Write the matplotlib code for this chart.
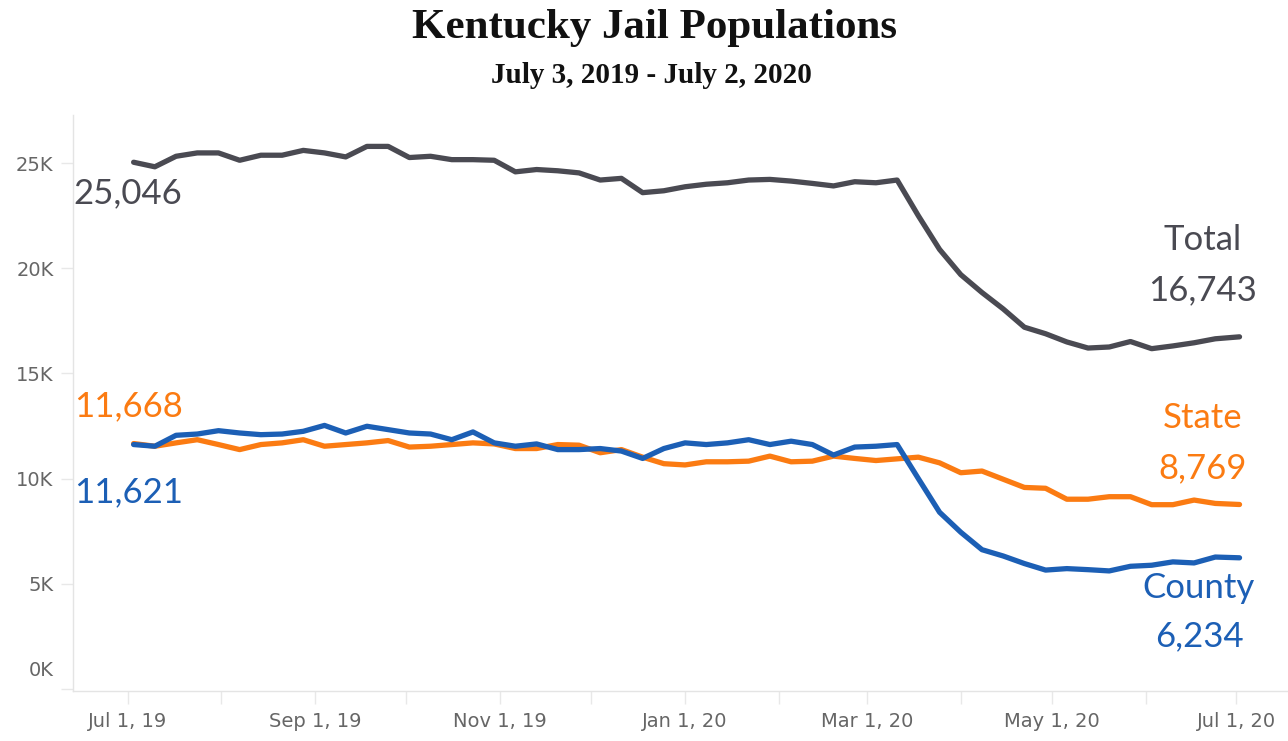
import numpy as np
import pandas as pd
import matplotlib
matplotlib.use("Agg")
import matplotlib.pyplot as plt
import matplotlib.dates as mdates
from matplotlib.ticker import FuncFormatter
from matplotlib.transforms import ScaledTranslation

# weekly counts, Jul 3 2019 - Jul 2 2020
dates = list(pd.date_range("2019-07-03", periods=52, freq="7D")) + [pd.Timestamp("2020-07-02")]

total = [25046, 24830, 25330, 25490, 25490, 25140, 25380, 25380, 25610, 25490,
         25300, 25800, 25800, 25270, 25330, 25170, 25170, 25140, 24590, 24700,
         24640, 24540, 24200, 24280, 23600, 23690, 23880, 24000, 24070, 24200,
         24230, 24150, 24040, 23920, 24120, 24070, 24200, 22500, 20900, 19700,
         18850, 18070, 17200, 16890, 16500, 16210, 16260, 16520, 16180, 16310,
         16460, 16650, 16743]
state = [11668, 11540, 11700, 11850, 11620, 11380, 11620, 11700, 11850, 11540,
         11620, 11700, 11810, 11500, 11540, 11620, 11700, 11650, 11430, 11430,
         11620, 11590, 11230, 11380, 11020, 10710, 10650, 10800, 10800, 10830,
         11070, 10800, 10830, 11070, 10960, 10860, 10940, 11020, 10750, 10280,
         10360, 9970, 9580, 9540, 9020, 9020, 9140, 9140, 8760, 8760,
         8980, 8820, 8769]
county = [11621, 11540, 12060, 12120, 12280, 12170, 12090, 12120, 12250, 12530,
          12170, 12490, 12330, 12170, 12120, 11850, 12220, 11700, 11540, 11650,
          11380, 11380, 11430, 11310, 10960, 11430, 11700, 11620, 11700, 11850,
          11620, 11780, 11620, 11120, 11500, 11540, 11620, 10000, 8400, 7450,
          6620, 6320, 5960, 5650, 5720, 5670, 5610, 5830, 5880, 6040,
          5990, 6270, 6234]

c_total = "#4a4a52"
c_state = "#fb7b12"
c_county = "#1c5fb5"

fig = plt.figure(figsize=(12.88, 7.41), dpi=100)
ax = fig.add_axes([0.0567, 0.0675, 0.9433, 0.7775])

for ys, c in [(total, c_total), (state, c_state), (county, c_county)]:
    ax.plot(dates, ys, color=c, lw=3.8, solid_capstyle="round", solid_joinstyle="round")

ax.set_xlim(pd.Timestamp("2019-06-13"), pd.Timestamp("2020-07-18"))
ax.set_ylim(-100, 27300)

ax.set_yticks([0, 5000, 10000, 15000, 20000, 25000])
ax.yaxis.set_major_formatter(FuncFormatter(lambda v, p: f"{v/1000:.0f}K"))
ax.xaxis.set_major_locator(mdates.MonthLocator(bymonth=[1, 3, 5, 7, 9, 11]))
ax.xaxis.set_minor_locator(mdates.MonthLocator())

def fmt_date(v, p):
    d = mdates.num2date(v)
    return d.strftime("%b ") + str(d.day) + d.strftime(", %y")

ax.xaxis.set_major_formatter(FuncFormatter(fmt_date))

for s in ["top", "right"]:
    ax.spines[s].set_visible(False)
for s in ["left", "bottom"]:
    ax.spines[s].set_color("#e4e4e4")
    ax.spines[s].set_linewidth(1)

ax.tick_params(axis="y", length=9, width=1, color="#e8e8e8", labelsize=14,
               labelcolor="#666666", pad=5, labelfontfamily="Liberation Sans Narrow")
ax.tick_params(axis="x", which="both", length=9, width=1, color="#e8e8e8",
               labelsize=14, labelcolor="#666666", pad=6,
               labelfontfamily="Liberation Sans Narrow")
zero = ax.get_yticklabels()[0]
zero.set_transform(zero.get_transform() + ScaledTranslation(0, 0.2, fig.dpi_scale_trans))

lab_font = dict(fontfamily="Lato", fontsize=25)

def lbl(text, x, y, dx, dy, color, ha="center"):
    ax.annotate(text, xy=(x, y), xytext=(dx, dy), textcoords="offset pixels",
                ha=ha, va="center", color=color, **lab_font)

# start labels
lbl(f"{total[0]:,}", dates[0], total[0], -60, -31, c_total, ha="left")
lbl(f"{state[0]:,}", dates[0], state[0], -60, 37, c_state, ha="left")
lbl(f"{county[0]:,}", dates[0], county[0], -60, -48, c_county, ha="left")
# end labels
lbl("Total", dates[-1], total[-1], -37, 97, c_total)
lbl(f"{total[-1]:,}", dates[-1], total[-1], -37, 47, c_total)
lbl("State", dates[-1], state[-1], -37, 86, c_state)
lbl(f"{state[-1]:,}", dates[-1], state[-1], -37, 36, c_state)
lbl("County", dates[-1], county[-1], -41, -30, c_county)
lbl(f"{county[-1]:,}", dates[-1], county[-1], -40, -78, c_county)

fig.text(0.508, 0.962, "Kentucky Jail Populations", ha="center", va="center",
         fontfamily="Liberation Serif", fontweight="bold", fontsize=31, color="#111111")
fig.text(0.506, 0.898, "July 3, 2019 - July 2, 2020", ha="center", va="center",
         fontfamily="Liberation Serif", fontweight="bold", fontsize=21, color="#111111")

fig.savefig("out.png", dpi=100)
